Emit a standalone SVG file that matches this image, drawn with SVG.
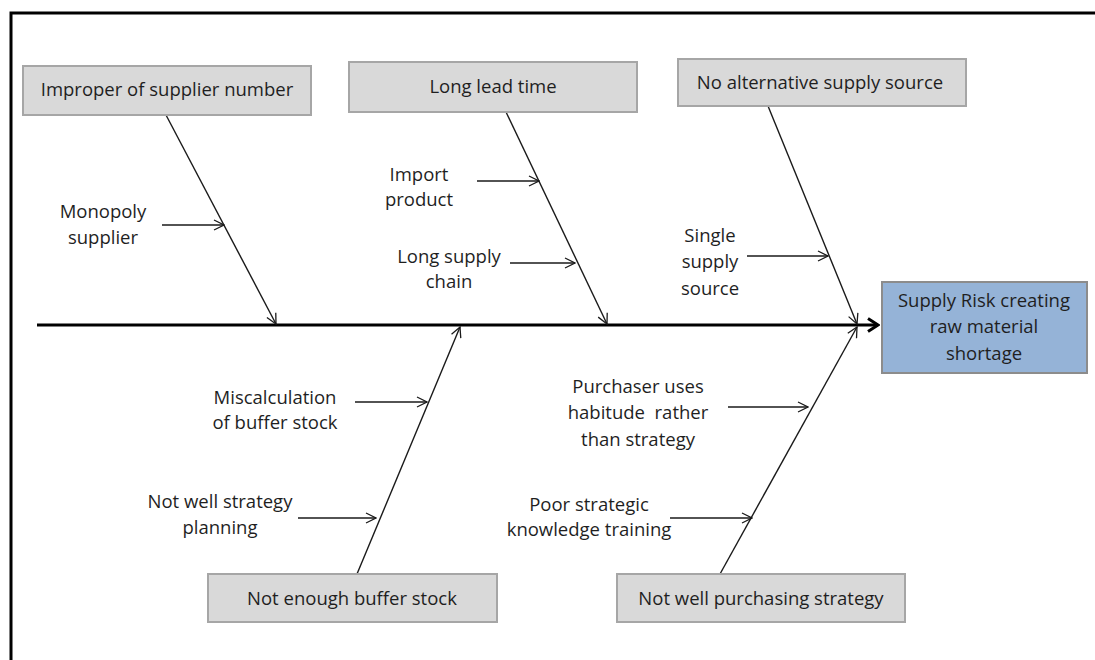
<svg xmlns="http://www.w3.org/2000/svg" width="1095" height="660" viewBox="0 0 1095 660">
  <style>
    .cause { fill: #d9d9d9; stroke: #a6a6a6; stroke-width: 2; }
    .effect { fill: #95b3d7; stroke: #8c8c8c; stroke-width: 2; }
    .lbl { font-family: "Open Sans", "Liberation Sans", sans-serif; font-size: 18.5px; fill: #1f1f1f; text-anchor: middle; }
    .bone { stroke: #1a1a1a; stroke-width: 1.4; fill: none; marker-end: url(#open); }
    .spine { stroke: #000; stroke-width: 3; fill: none; marker-end: url(#openBold); }
  </style>
  <defs>
    <marker id="open" viewBox="0 0 12 12" refX="11" refY="6" markerWidth="12" markerHeight="12" markerUnits="userSpaceOnUse" orient="auto">
      <path d="M1,1 L11,6 L1,11" fill="none" stroke="#1a1a1a" stroke-width="1.3"/>
    </marker>
    <marker id="openBold" viewBox="0 0 14 16" refX="12" refY="8" markerWidth="14" markerHeight="16" markerUnits="userSpaceOnUse" orient="auto">
      <path d="M2,1.5 L12,8 L2,14.5" fill="none" stroke="#000" stroke-width="3"/>
    </marker>
  </defs>

  <rect width="1095" height="660" fill="#fff"/>

  <!-- frame -->
  <path d="M11,660 L11,13 L1095,13" fill="none" stroke="#000" stroke-width="3"/>

  <!-- connectors -->
  <g id="connectors">
    <line class="spine" x1="37" y1="325" x2="878" y2="325"/>
    <!-- upper bones -->
    <line class="bone" x1="166" y1="115" x2="276" y2="324"/>
    <line class="bone" x1="506" y1="112" x2="607" y2="324"/>
    <line class="bone" x1="768" y1="106" x2="857" y2="324"/>
    <!-- lower bones -->
    <line class="bone" x1="357" y1="574" x2="460" y2="327"/>
    <line class="bone" x1="720" y1="574" x2="857" y2="327"/>
    <!-- sub-causes -->
    <line class="bone" x1="162" y1="225" x2="224" y2="225"/>
    <line class="bone" x1="477" y1="181" x2="539" y2="181"/>
    <line class="bone" x1="510" y1="263" x2="575" y2="263"/>
    <line class="bone" x1="747" y1="256" x2="828" y2="256"/>
    <line class="bone" x1="355" y1="402" x2="427" y2="402"/>
    <line class="bone" x1="298" y1="518" x2="376" y2="518"/>
    <line class="bone" x1="728" y1="407" x2="808" y2="407"/>
    <line class="bone" x1="670" y1="518" x2="752" y2="518"/>
  </g>

  <!-- cause categories -->
  <g id="cause-supplier-number">
    <rect class="cause" x="23" y="66" width="288" height="49"/>
    <text class="lbl" x="167" y="96">Improper of supplier number</text>
  </g>
  <g id="cause-lead-time">
    <rect class="cause" x="349" y="62" width="288" height="50"/>
    <text class="lbl" x="493" y="93">Long lead time</text>
  </g>
  <g id="cause-supply-source">
    <rect class="cause" x="678" y="59" width="288" height="47"/>
    <text class="lbl" x="820" y="89">No alternative supply source</text>
  </g>
  <g id="cause-buffer-stock">
    <rect class="cause" x="208" y="574" width="289" height="48"/>
    <text class="lbl" x="352" y="605">Not enough buffer stock</text>
  </g>
  <g id="cause-purchasing">
    <rect class="cause" x="617" y="574" width="288" height="48"/>
    <text class="lbl" x="761" y="605">Not well purchasing strategy</text>
  </g>

  <!-- effect -->
  <g id="effect">
    <rect class="effect" x="882" y="282" width="205" height="91"/>
    <text class="lbl" x="984" y="307">Supply Risk creating</text>
    <text class="lbl" x="984" y="333">raw material</text>
    <text class="lbl" x="984" y="360">shortage</text>
  </g>

  <!-- sub-cause labels -->
  <g id="sub-monopoly">
    <text class="lbl" x="103" y="218">Monopoly</text>
    <text class="lbl" x="103" y="244">supplier</text>
  </g>
  <g id="sub-import">
    <text class="lbl" x="419" y="181">Import</text>
    <text class="lbl" x="419" y="206">product</text>
  </g>
  <g id="sub-supply-chain">
    <text class="lbl" x="449" y="263">Long supply</text>
    <text class="lbl" x="449" y="288">chain</text>
  </g>
  <g id="sub-single-source">
    <text class="lbl" x="710" y="242">Single</text>
    <text class="lbl" x="710" y="268">supply</text>
    <text class="lbl" x="710" y="295">source</text>
  </g>
  <g id="sub-miscalculation">
    <text class="lbl" x="275" y="404">Miscalculation</text>
    <text class="lbl" x="275" y="429">of buffer stock</text>
  </g>
  <g id="sub-planning">
    <text class="lbl" x="220" y="508">Not well strategy</text>
    <text class="lbl" x="220" y="534">planning</text>
  </g>
  <g id="sub-habitude">
    <text class="lbl" x="638" y="393">Purchaser uses</text>
    <text class="lbl" x="638" y="419" xml:space="preserve" style="white-space: pre">habitude  rather</text>
    <text class="lbl" x="638" y="446">than strategy</text>
  </g>
  <g id="sub-training">
    <text class="lbl" x="589" y="511">Poor strategic</text>
    <text class="lbl" x="589" y="536">knowledge training</text>
  </g>
</svg>
